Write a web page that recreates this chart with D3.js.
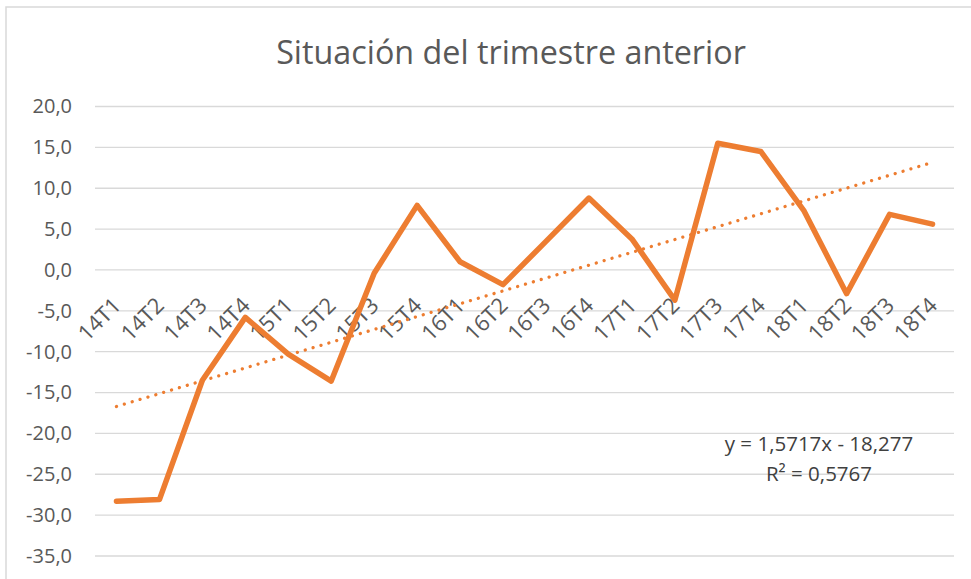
<!DOCTYPE html>
<html>
<head>
<meta charset="utf-8">
<script src="https://cdn.jsdelivr.net/npm/d3@7"></script>
<style>
  html, body { margin: 0; padding: 0; background: #fff; }
  svg { display: block; }
  text { font-family: "Open Sans", "DejaVu Sans", sans-serif; }
</style>
</head>
<body>
<div id="chart"></div>
<script>
const title = "Situación del trimestre anterior";
const categories = ["14T1","14T2","14T3","14T4","15T1","15T2","15T3","15T4",
  "16T1","16T2","16T3","16T4","17T1","17T2","17T3","17T4","18T1","18T2","18T3","18T4"];
const values = [-28.3, -28.1, -13.5, -5.8, -10.3, -13.6, -0.4, 7.9,
  1.0, -1.8, 3.5, 8.8, 3.8, -3.7, 15.5, 14.5, 7.3, -2.9, 6.8, 5.6];
const yTicks = [-35, -30, -25, -20, -15, -10, -5, 0, 5, 10, 15, 20];
const trendSlope = 1.5717;
const trendIntercept = -18.277;
const trendLabels = ["y = 1,5717x - 18,277", "R² = 0,5767"];

const W = 971, H = 579;
const svg = d3.select("#chart").append("svg").attr("width", W).attr("height", H);

// chart border (right/bottom edges fall outside the view)
svg.append("rect").attr("x", 6).attr("y", 7).attr("width", W + 20).attr("height", H + 20)
  .attr("fill", "#fff").attr("stroke", "#d9d9d9").attr("stroke-width", 1.5);

const x = d3.scaleBand().domain(categories).range([95, 954]).padding(0);
const y = d3.scaleLinear().domain([-35, 20]).range([556, 106.5]);
const cx = c => x(c) + x.bandwidth() / 2;

// gridlines
svg.append("g").selectAll("line").data(yTicks).join("line")
  .attr("x1", 95).attr("x2", 954)
  .attr("y1", d => y(d)).attr("y2", d => y(d))
  .attr("stroke", "#d9d9d9").attr("stroke-width", 1.3);

// y axis labels
const fmt = d => d3.format(".1f")(d).replace(".", ",").replace("−", "-");
const yAxis = d3.axisLeft(y).tickValues(yTicks).tickFormat(fmt).tickSize(0).tickPadding(0);
const gy = svg.append("g").attr("transform", "translate(72,0)").call(yAxis);
gy.select(".domain").remove();
gy.selectAll("text").attr("font-size", 20).attr("fill", "#595959")
  .style("font-family", '"Open Sans", sans-serif');

// x category labels, rotated, next to the zero line
const xAxis = d3.axisBottom(x).tickSize(0).tickPadding(0);
const gx = svg.append("g").attr("transform", `translate(0,${y(0)})`).call(xAxis);
gx.select(".domain").remove();
gx.selectAll(".tick text")
  .attr("font-size", 22).attr("fill", "#595959")
  .style("font-family", '"Open Sans", sans-serif')
  .attr("text-anchor", "end")
  .attr("y", 0).attr("dy", 0)
  .attr("transform", "translate(6,37) rotate(-45)");

// data line
const line = d3.line().x((d, i) => cx(categories[i])).y(d => y(d));
svg.append("path").datum(values).attr("d", line)
  .attr("fill", "none").attr("stroke", "#ED7D31").attr("stroke-width", 5.5)
  .attr("stroke-linejoin", "round").attr("stroke-linecap", "round");

// trend line (from the displayed regression equation)
const n = categories.length;
const trendPts = [[1, trendIntercept + trendSlope * 1], [n, trendIntercept + trendSlope * n]];
svg.append("path").datum(trendPts)
  .attr("d", d3.line().x(d => cx(categories[d[0] - 1])).y(d => y(d[1])))
  .attr("fill", "none").attr("stroke", "#ED7D31").attr("stroke-width", 3.3)
  .attr("stroke-linecap", "round").attr("stroke-dasharray", "0.01 8.2");

// trend equation
svg.append("g").selectAll("text").data(trendLabels).join("text")
  .attr("x", 819).attr("y", (d, i) => 451 + i * 30)
  .attr("text-anchor", "middle").attr("font-size", 20.5).attr("fill", "#404040")
  .text(d => d);

// title
svg.append("text").attr("x", 511).attr("y", 64).attr("text-anchor", "middle")
  .attr("font-size", 32.3).attr("fill", "#595959").text(title);
</script>
</body>
</html>
